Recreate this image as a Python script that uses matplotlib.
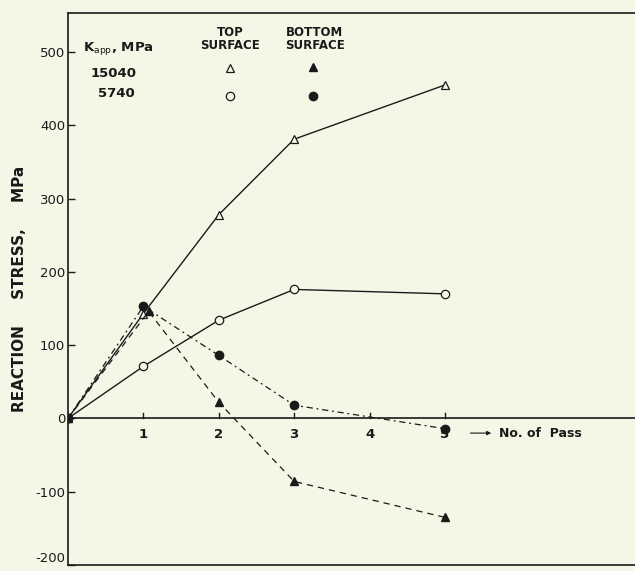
import matplotlib.pyplot as plt

passes = [0, 1, 2, 3, 5]

# reaction stress, MPa
top_15040 = [0, 143, 278, 381, 455]
top_5740 = [0, 71, 134, 176, 170]
bot_15040 = [0, 146, 22, -86, -135]
bot_5740 = [0, 153, 86, 18, -14]
bot_15040_x = [0, 1.07, 2, 3, 5]

yticks = [-200, -100, 0, 100, 200, 300, 400, 500]
xticks = [1, 2, 3, 4, 5]

bg = "#f6f6e7"
ink = "#1a1a1a"

fig = plt.figure(figsize=(6.35, 5.71), dpi=100, facecolor=bg)
ax = fig.add_axes([0.107, 0.0105, 0.893, 0.9665], facecolor=bg)

ax.plot(passes, top_15040, color=ink, lw=1.0, marker="^", mfc=bg, mec=ink,
        ms=6, mew=0.9)
ax.plot(passes, top_5740, color=ink, lw=1.0, marker="o", mfc=bg, mec=ink,
        ms=6, mew=0.9)
ax.plot(bot_15040_x, bot_15040, color=ink, lw=0.9, ls=(0, (5, 4)),
        marker="^", mfc=ink, mec=ink, ms=6)
ax.plot(passes, bot_5740, color=ink, lw=0.9, ls=(0, (5, 3, 1.5, 3)),
        marker="o", mfc=ink, mec=ink, ms=6)

ax.axhline(0, color=ink, lw=1.2)

ax.set_xlim(0, 7.52)
ax.set_ylim(-200, 553)
ax.set_yticks(yticks)
ax.set_yticklabels([str(v) for v in yticks])
ax.get_yticklabels()[0].set_va("bottom")
ax.set_xticks(xticks)
ax.set_xticklabels([])
ax.tick_params(axis="y", direction="in", length=5, width=1, colors=ink,
               labelsize=9.5, pad=2)
ax.tick_params(axis="x", length=0)
for x in xticks:
    ax.plot([x, x], [0, 8], color=ink, lw=1.0)
    ax.text(x, -22, str(x), ha="center", va="center", fontsize=9.5,
            color=ink, fontweight="bold")

for s in ["left", "top", "bottom"]:
    ax.spines[s].set_color(ink)
    ax.spines[s].set_linewidth(1.2)
ax.spines["right"].set_visible(False)

ax.set_ylabel("REACTION     STRESS,     MPa", fontsize=11,
              color=ink, fontweight="bold")
ax.yaxis.set_label_coords(-0.073, 0.5)

# legend block drawn by hand
ax.text(0.2, 505, r"K$_{\rm app}$, MPa", fontsize=9.5, color=ink,
        fontweight="bold", va="center")
ax.text(0.3, 470, "15040", fontsize=9.5, color=ink, fontweight="bold",
        va="center")
ax.text(0.4, 443, "5740", fontsize=9.5, color=ink, fontweight="bold",
        va="center")
ax.text(2.15, 518, "TOP\nSURFACE", fontsize=8.5, color=ink, fontweight="bold",
        ha="center", va="center", linespacing=1.0)
ax.text(3.27, 518, "BOTTOM\nSURFACE", fontsize=8.5, color=ink,
        fontweight="bold", ha="center", va="center", linespacing=1.0)
ax.plot([2.15], [478], marker="^", mfc=bg, mec=ink, ms=6, mew=0.9)
ax.plot([2.15], [440], marker="o", mfc=bg, mec=ink, ms=6, mew=0.9)
ax.plot([3.25], [480], marker="^", mfc=ink, mec=ink, ms=6)
ax.plot([3.25], [440], marker="o", mfc=ink, mec=ink, ms=6)

ax.annotate("", xy=(5.65, -20), xytext=(5.3, -20),
            arrowprops=dict(arrowstyle="-|>", color=ink, lw=0.8,
                            mutation_scale=6))
ax.text(5.72, -20, "No. of  Pass", fontsize=9, color=ink, fontweight="bold",
        va="center")

fig.savefig("out.png", dpi=100, facecolor=bg)
